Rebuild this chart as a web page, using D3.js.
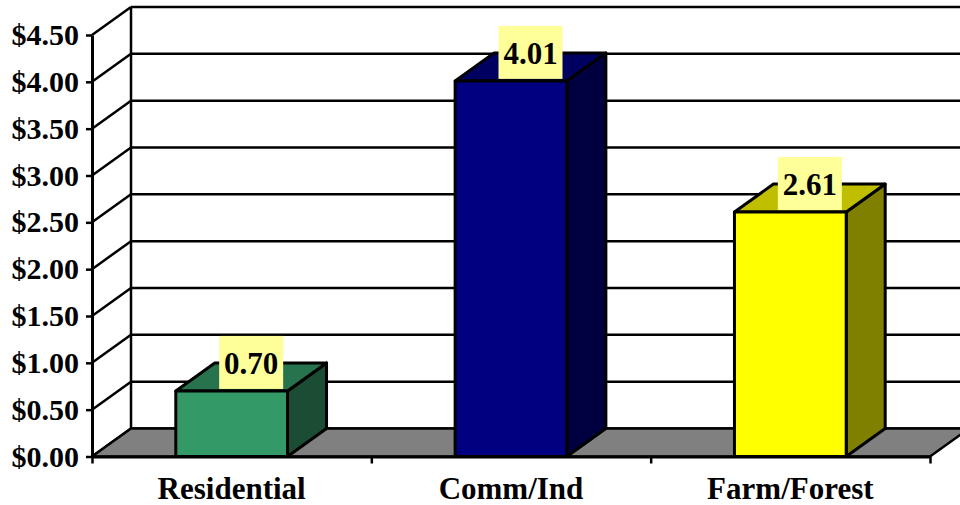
<!DOCTYPE html>
<html>
<head>
<meta charset="utf-8">
<script src="https://cdn.jsdelivr.net/npm/d3@7"></script>
<style>
  html, body { margin: 0; padding: 0; background: #fff; }
  svg { display: block; }
  text { font-family: "Liberation Serif", "Times New Roman", serif; font-weight: bold; fill: #000; }
</style>
</head>
<body>
<svg id="chart" width="960" height="505"></svg>
<script>
// Chart data
const categories = ["Residential", "Comm/Ind", "Farm/Forest"];
const values = [0.70, 4.01, 2.61];
const tickValues = [0, 0.5, 1, 1.5, 2, 2.5, 3, 3.5, 4, 4.5];
const tickLabels = ["$0.00", "$0.50", "$1.00", "$1.50", "$2.00", "$2.50", "$3.00", "$3.50", "$4.00", "$4.50"];
const barColors = ["#339966", "#000080", "#ffff00"];

// Layout of the pseudo-3D box
const W = 960, H = 505;
const left = 92, right = 930;
const depthX = 39, depthY = -28;

const svg = d3.select("#chart");

const y = d3.scaleLinear().domain([0, 4.5]).range([456.5, 35]);
const x = d3.scaleBand().domain(categories).range([left, right])
  .paddingInner(0.6).paddingOuter(0.3);
const xEdges = d3.scaleLinear().domain([0, categories.length]).range([left, right]);

const shade = (c, k) => {
  const col = d3.rgb(c);
  return d3.rgb(col.r * k, col.g * k, col.b * k).formatHex();
};

// Back wall gridlines
const walls = svg.append("g").attr("stroke", "#000").attr("stroke-width", 2.5).attr("fill", "none");
walls.selectAll("line.back").data(tickValues).join("line")
  .attr("class", "back")
  .attr("x1", left + depthX).attr("x2", right + depthX + 40)
  .attr("y1", d => y(d) + depthY).attr("y2", d => y(d) + depthY);
walls.append("line")
  .attr("x1", left + depthX).attr("x2", left + depthX)
  .attr("y1", y(0) + depthY).attr("y2", y(4.5) + depthY);
// Side wall gridlines
walls.selectAll("line.side").data(tickValues).join("line")
  .attr("class", "side")
  .attr("x1", left).attr("x2", left + depthX)
  .attr("y1", d => y(d)).attr("y2", d => y(d) + depthY);

// Floor
svg.append("polygon")
  .attr("points", [
    [left, y(0)], [right, y(0)], [right + depthX, y(0) + depthY], [left + depthX, y(0) + depthY]
  ].map(p => p.join(",")).join(" "))
  .attr("fill", "#808080").attr("stroke", "#000").attr("stroke-width", 2.5)
  .attr("stroke-linejoin", "round");

// Bars
const rows = categories.map((c, i) => ({ c, v: values[i], color: barColors[i] }));
const bars = svg.append("g").attr("stroke", "#000").attr("stroke-width", 3).attr("stroke-linejoin", "round");
rows.forEach(d => {
  const x0 = x(d.c), x1 = x(d.c) + x.bandwidth();
  const yt = y(d.v), yb = y(0);
  const g = bars.append("g");
  g.append("polygon") // side
    .attr("points", [[x1, yt], [x1 + depthX, yt + depthY], [x1 + depthX, yb + depthY], [x1, yb]].map(p => p.join(",")).join(" "))
    .attr("fill", shade(d.color, 0.5));
  g.append("polygon") // top
    .attr("points", [[x0, yt], [x0 + depthX, yt + depthY], [x1 + depthX, yt + depthY], [x1, yt]].map(p => p.join(",")).join(" "))
    .attr("fill", shade(d.color, 0.75));
  g.append("rect") // front
    .attr("x", x0).attr("y", yt).attr("width", x1 - x0).attr("height", yb - yt)
    .attr("fill", d.color);
});

// Value labels
const labels = svg.append("g");
rows.forEach(d => {
  const cx = x(d.c) + x.bandwidth() / 2 + depthX / 2;
  const bottom = y(d.v) - 2;
  labels.append("rect")
    .attr("x", cx - 32).attr("y", bottom - 53).attr("width", 64).attr("height", 53)
    .attr("fill", "#ffff99");
  labels.append("text")
    .attr("x", cx).attr("y", bottom - 15)
    .attr("text-anchor", "middle").attr("font-size", 31)
    .text(d.v.toFixed(2));
});

// Value axis
const yAxis = svg.append("g").attr("transform", `translate(${left},0)`)
  .call(d3.axisLeft(y).tickValues(tickValues).tickFormat((d, i) => tickLabels[i])
    .tickSize(6).tickSizeOuter(0).tickPadding(7));
yAxis.select(".domain").attr("stroke-width", 3);
yAxis.selectAll(".tick line").attr("stroke-width", 2.5);
yAxis.selectAll("text").attr("font-size", 30).attr("font-family", null);

// Category axis
const xAxis = svg.append("g").attr("transform", `translate(0,${y(0)})`)
  .call(d3.axisBottom(xEdges).tickValues(d3.range(categories.length + 1))
    .tickFormat("").tickSize(7).tickSizeOuter(0));
xAxis.select(".domain").attr("stroke-width", 3);
xAxis.selectAll(".tick line").attr("stroke-width", 2.5);

svg.append("g").selectAll("text").data(categories).join("text")
  .attr("x", d => x(d) + x.bandwidth() / 2)
  .attr("y", 499)
  .attr("text-anchor", "middle").attr("font-size", 31)
  .text(d => d);
</script>
</body>
</html>
